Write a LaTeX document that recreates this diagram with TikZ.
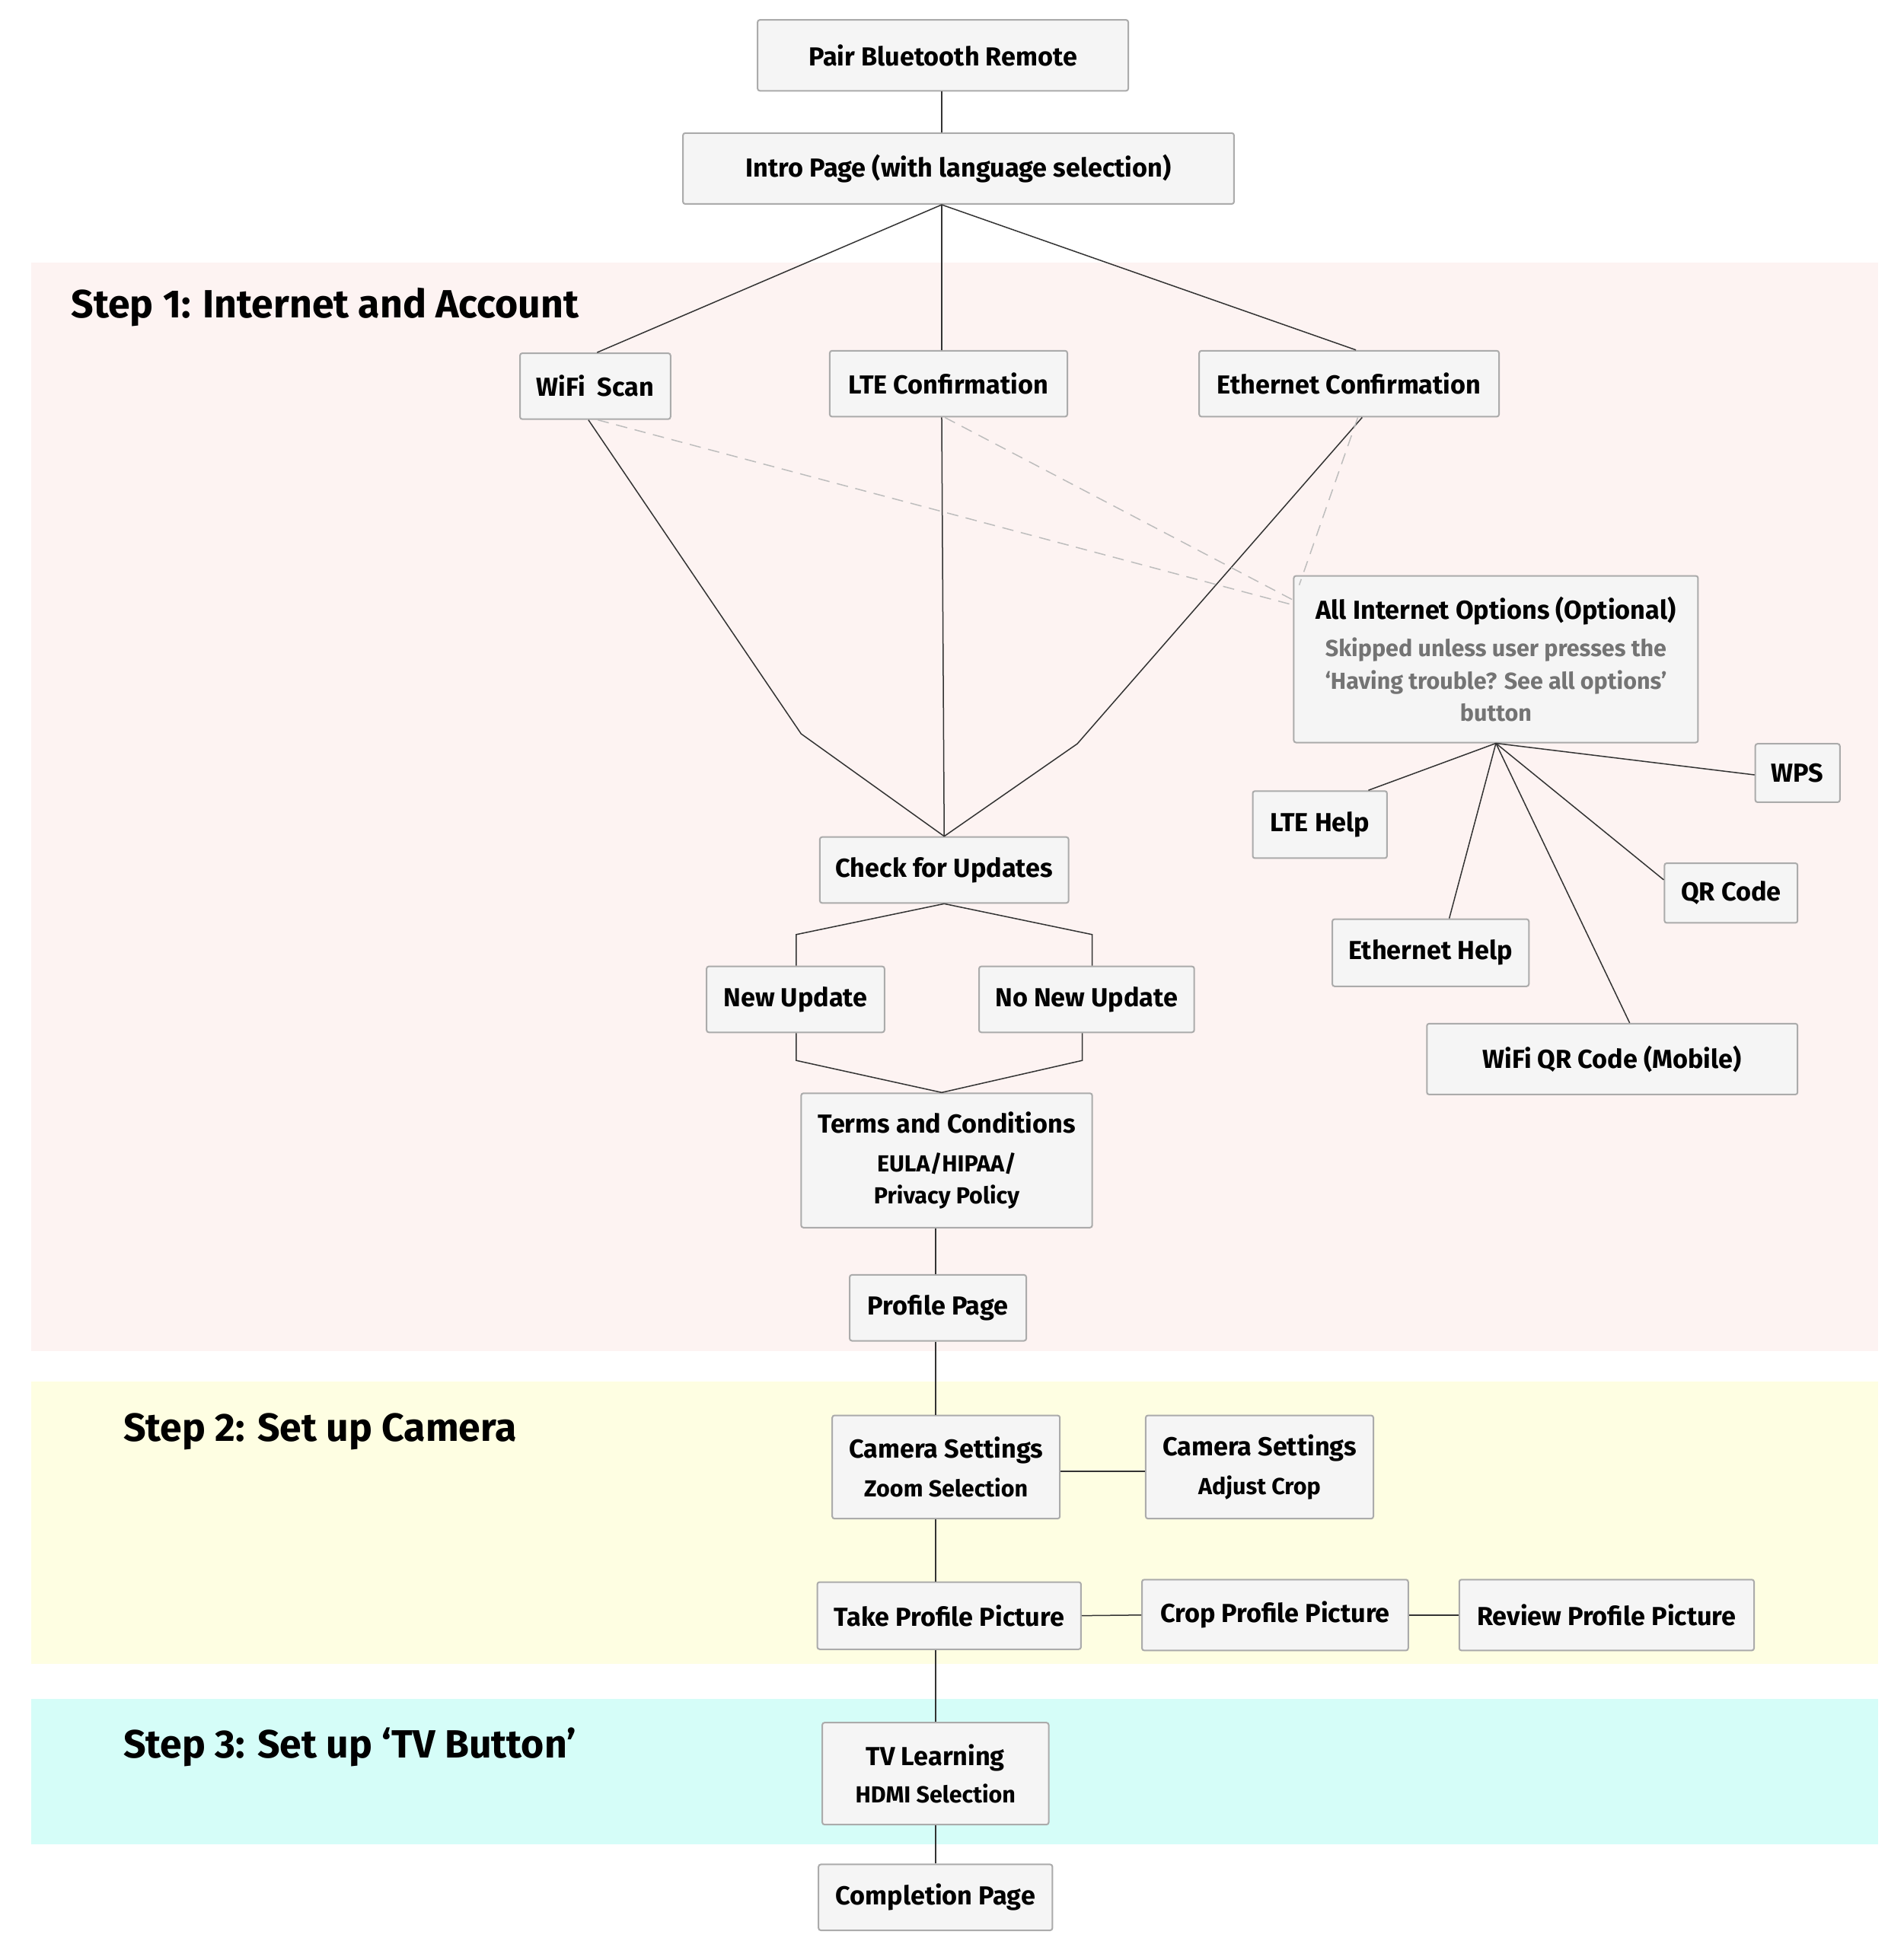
\documentclass[tikz,border=0pt]{standalone}
\usepackage{fontspec}
\setmainfont{Fira Sans}
\usetikzlibrary{calc}
\definecolor{boxfill}{HTML}{F5F5F5}
\definecolor{boxline}{HTML}{ABABAB}
\definecolor{edge}{HTML}{333333}
\definecolor{dashc}{HTML}{BDBDBD}
\definecolor{bandA}{HTML}{FDF3F2}
\definecolor{bandB}{HTML}{FEFEE2}
\definecolor{bandC}{HTML}{D5FDF8}
\definecolor{subgray}{HTML}{747474}
\newcommand\fa{\fontsize{13.7}{17}\selectfont\bfseries}
\newcommand\fb{\fontsize{12.2}{17}\selectfont\bfseries}
\newcommand\ft{\fontsize{20.7}{24}\selectfont\bfseries}
\newcommand\gs[1]{{\fb\color{subgray}#1}}
\newcommand\sm[1]{{\fb #1}}
\newcommand\bx[6]{\node[box, minimum width={(#4-#2)*0.6536pt}, minimum height={(#5-#3)*0.6536pt}] (#1) at ({(#2+#4)/2},{(#3+#5)/2}) {#6};}
\begin{document}
\begin{tikzpicture}[x=0.6536pt,y=-0.6536pt,
  box/.style={draw=boxline, line width=0.8pt, fill=boxfill, rounded corners=1.2pt, inner sep=0pt, align=center, font=\fa},
  link/.style={draw=edge, line width=0.6pt},
  optlink/.style={draw=dashc, line width=0.6pt, dash pattern=on 6pt off 4pt},
  steptitle/.style={font=\ft, anchor=west, inner sep=0pt}]
\useasboundingbox (0,0) rectangle (1530,1563);
\fill[white] (0,0) rectangle (1530,1563);
% bands
\fill[bandA] (25,211) rectangle (1510,1086);
\fill[bandB] (25,1111) rectangle (1510,1338);
\fill[bandC] (25,1366) rectangle (1510,1483);
\node[steptitle] (t1) at (57,247) {Step 1: Internet and Account};
\node[steptitle] (t2) at (99,1151) {Step 2: Set up Camera};
\node[steptitle] (t3) at (99,1405) {Step 3: Set up ‘TV Button’};
% nodes
\bx{pair}{609}{16}{907}{73}{Pair Bluetooth Remote}
\bx{intro}{549}{107}{992}{164}{Intro Page (with language selection)}
\bx{wifi}{418}{284}{539}{337}{WiFi~~Scan}
\bx{lte}{667}{282}{858}{335}{LTE Confirmation}
\bx{eth}{964}{282}{1205}{335}{Ethernet Confirmation}
\bx{allopt}{1040}{463}{1365}{597}{All Internet Options (Optional)\\[2.6pt]\gs{Skipped unless user presses the}\\\gs{‘Having trouble? See all options’}\\\gs{button}}
\bx{wps}{1411}{598}{1479}{645}{WPS}
\bx{ltehelp}{1007}{636}{1115}{690}{LTE Help}
\bx{qr}{1338}{694}{1445}{742}{QR Code}
\bx{ethhelp}{1071}{739}{1229}{793}{Ethernet Help}
\bx{wifiqr}{1147}{823}{1445}{880}{WiFi QR Code (Mobile)}
\bx{check}{659}{673}{859}{726}{Check for Updates}
\bx{newup}{568}{777}{711}{830}{New Update}
\bx{nonew}{787}{777}{960}{830}{No New Update}
\bx{terms}{644}{879}{878}{987}{Terms and Conditions\\[3.3pt]\sm{EULA/HIPAA/}\\\sm{Privacy Policy}}
\bx{profile}{683}{1025}{825}{1078}{Profile Page}
\bx{camzoom}{669}{1138}{852}{1221}{Camera Settings\\[3.3pt]\sm{Zoom Selection}}
\bx{camcrop}{921}{1138}{1104}{1221}{Camera Settings\\[3.3pt]\sm{Adjust Crop}}
\bx{take}{657}{1272}{869}{1326}{Take Profile Picture}
\bx{crop}{918}{1270}{1132}{1327}{Crop Profile Picture}
\bx{review}{1173}{1270}{1410}{1327}{Review Profile Picture}
\bx{tv}{661}{1385}{843}{1467}{TV Learning\\[2.6pt]\sm{HDMI Selection}}
\bx{done}{658}{1499}{846}{1552}{Completion Page}
% helper coordinates
\coordinate (topx) at (757,0);
\coordinate (spine) at (752,0);
\coordinate (ia) at (intro.south -| topx);
\coordinate (wbend) at (644,590);
\coordinate (ebend) at (866,598);
% connectors
\draw[link] (pair.south -| topx) -- (intro.north -| topx);
\draw[link] (ia) -- ($(wifi.north)+(1.5,0)$);
\draw[link] (ia) -- (lte.north -| topx);
\draw[link] (ia) -- ($(eth.north)+(5.5,0)$);
\draw[link] ($(wifi.south)+(-5.5,0)$) -- (wbend) -- (check.north);
\draw[link] (lte.south -| topx) -- (check.north);
\draw[link] ($(eth.south)+(10.5,0)$) -- (ebend) -- (check.north);
\draw[optlink] ($(wifi.south)+(2,0)$) -- ($(allopt.north west)+(0,24)$);
\draw[optlink] ($(lte.south)+(-3,0)$) -- ($(allopt.north west)+(0,20)$);
\draw[optlink] ($(eth.south)+(7,0)$) -- ($(allopt.north west)+(5,8)$);
\draw[link] (allopt.south) -- ($(wps.west)+(0,1.5)$);
\draw[link] (allopt.south) -- ($(ltehelp.north)+(39,0)$);
\draw[link] (allopt.south) -- ($(qr.north west)+(0,14)$);
\draw[link] (allopt.south) -- ($(ethhelp.north)+(15,0)$);
\draw[link] (allopt.south) -- ($(wifiqr.north)+(14,0)$);
\draw[link] (check.south) -- ($(newup.north)+(0.5,-25)$) -- ($(newup.north)+(0.5,0)$);
\draw[link] (check.south) -- ($(nonew.north)+(4.5,-25)$) -- ($(nonew.north)+(4.5,0)$);
\draw[link] ($(newup.south)+(0.5,0)$) -- ($(newup.south)+(0.5,22)$) -- ($(terms.north)+(-4,0)$);
\draw[link] ($(nonew.south)+(-3.5,0)$) -- ($(nonew.south)+(-3.5,22)$) -- ($(terms.north)+(-4,0)$);
\draw[link] (terms.south -| spine) -- (profile.north -| spine);
\draw[link] (profile.south -| spine) -- (camzoom.north -| spine);
\draw[link] ($(camzoom.east)+(0,3.5)$) -- ($(camcrop.west)+(0,3.5)$);
\draw[link] (camzoom.south -| spine) -- (take.north -| spine);
\draw[link] (take.east) -- (crop.west);
\draw[link] (crop.east) -- (review.west);
\draw[link] (take.south -| spine) -- (tv.north -| spine);
\draw[link] (tv.south -| spine) -- (done.north -| spine);
\end{tikzpicture}
\end{document}
